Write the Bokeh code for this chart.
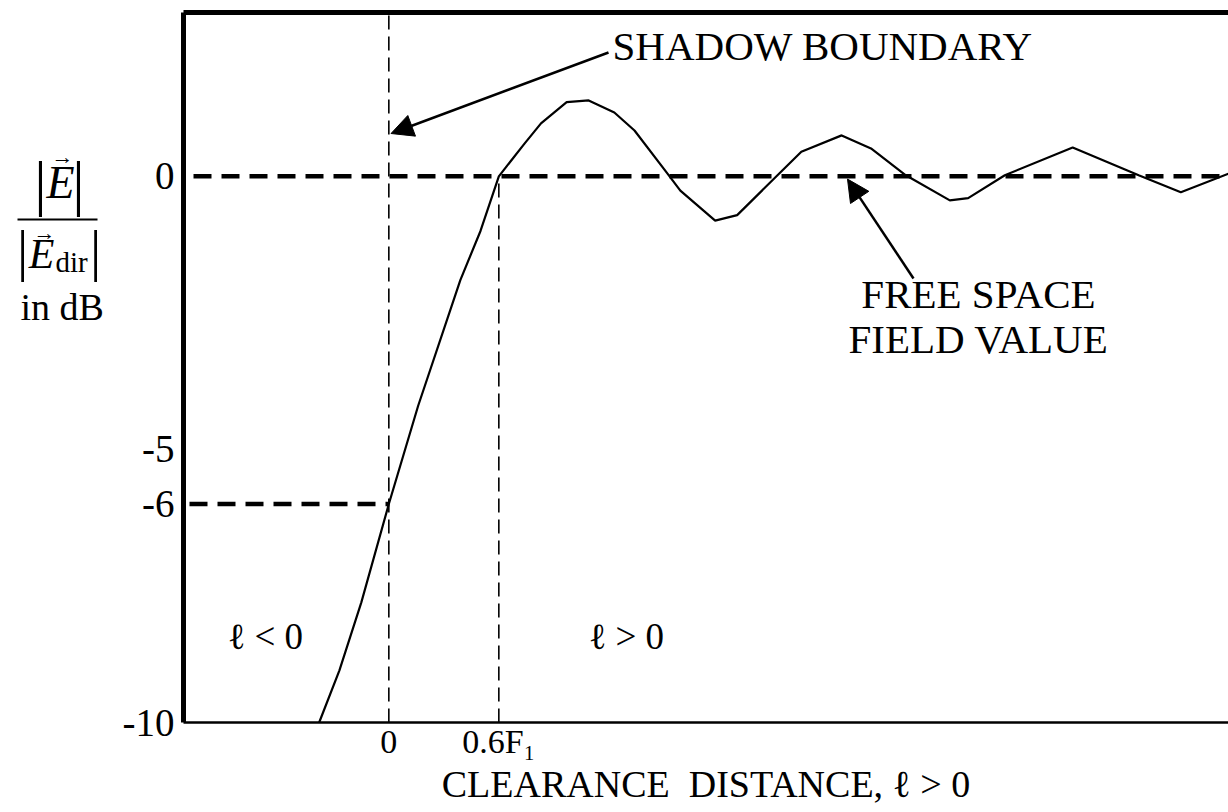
from bokeh.plotting import figure
from bokeh.layouts import row
from bokeh.models import Range1d, LinearAxis, FixedTicker, Label, Arrow, NormalHead
from bokeh.embed import file_html
from bokeh.resources import INLINE

# Relative field strength |E|/|E_dir| (dB) versus path clearance (units of F1)
clearance = [-0.38, -0.27, -0.15, 0.0, 0.16, 0.39, 0.50, 0.60, 0.74, 0.83,
             0.97, 1.09, 1.23, 1.34, 1.52, 1.59, 1.78, 1.90, 2.12, 2.25,
             2.47, 2.63, 2.82, 3.06, 3.16, 3.36, 3.73, 4.09, 4.32, 4.58]
field_db = [-10.0, -9.05, -7.8, -6.0, -4.2, -1.9, -1.0, 0.0, 0.6, 0.97,
            1.36, 1.39, 1.17, 0.84, 0.05, -0.26, -0.81, -0.71, 0.02, 0.45,
            0.75, 0.51, 0.02, -0.44, -0.40, 0.02, 0.53, 0.02, -0.29, 0.05]

free_space_db = 0.0          # free-space field level
shadow_db = -6.0             # field at grazing incidence
shadow_clearance = 0.0       # shadow boundary
fresnel_clearance = 0.6      # 0.6 F1 clearance

y_ticks = [0, -5, -6, -10]
y_tick_labels = {0: "0", -5: "-5", -6: "-6", -10: "-10"}
x_ticks = [0, 0.6]
x_tick_labels = {0: "0", 0.6: "0.6F\u2081"}

X0, X1 = -1.12, 4.58
Y0, Y1 = -10.0, 3.0

W, H = 1228, 812
LW = 110                              # width of the quantity panel
FL, FR, FT, FB = 183, 1228, 12, 722   # plot frame edges on the page

SERIF = "Liberation Serif"


def cx(px):
    return X0 + (px - FL) * (X1 - X0) / (FR - FL)


def cy(py):
    return Y1 - (py - FT) * (Y1 - Y0) / (FB - FT)


# ---- main plot -------------------------------------------------------
p = figure(width=W - LW, height=H, output_backend="svg", toolbar_location=None,
           x_range=Range1d(X0, X1), y_range=Range1d(Y0, Y1),
           min_border_left=FL - LW, min_border_right=W - FR,
           min_border_top=FT, min_border_bottom=H - FB)
p.outline_line_color = None
p.grid.visible = False
p.background_fill_color = "white"
p.border_fill_color = "white"

ya = p.yaxis[0]
ya.ticker = FixedTicker(ticks=y_ticks)
ya.major_label_overrides = y_tick_labels
ya.axis_line_width = 5
ya.axis_line_color = "black"
ya.major_tick_out = 0
ya.major_tick_in = 0
ya.minor_tick_out = 0
ya.minor_tick_in = 0
ya.major_label_standoff = 9
ya.major_label_text_font = SERIF
ya.major_label_text_font_size = "39px"
ya.major_label_text_color = "black"

xa = p.xaxis[0]
xa.ticker = FixedTicker(ticks=x_ticks)
xa.major_label_overrides = x_tick_labels
xa.axis_line_width = 2.5
xa.axis_line_color = "black"
xa.major_tick_out = 0
xa.major_tick_in = 0
xa.minor_tick_out = 0
xa.minor_tick_in = 0
xa.major_label_standoff = 0
xa.major_label_text_font = SERIF
xa.major_label_text_font_size = "34px"
xa.major_label_text_color = "black"
xa.axis_label = "CLEARANCE\u00a0 DISTANCE, \u2113 > 0"
xa.axis_label_text_font = SERIF
xa.axis_label_text_font_style = "normal"
xa.axis_label_text_font_size = "38px"
xa.axis_label_text_color = "black"
xa.axis_label_standoff = 0

# heavy top border
top = LinearAxis(ticker=FixedTicker(ticks=[]), axis_line_width=5,
                 major_tick_out=0, major_tick_in=0, minor_tick_out=0,
                 minor_tick_in=0, major_label_text_font_size="0px",
                 major_label_standoff=0)
p.add_layout(top, "above")

# reference levels and clearances
p.line([cx(193), X1], [free_space_db, free_space_db], line_color="black",
       line_width=4.5, line_dash="18 10")
p.line([cx(189), shadow_clearance], [shadow_db, shadow_db], line_color="black",
       line_width=4.5, line_dash="18 10")
p.line([shadow_clearance, shadow_clearance], [Y0, Y1], line_color="black",
       line_width=1.6, line_dash="14 7")
p.line([fresnel_clearance, fresnel_clearance], [Y0, free_space_db],
       line_color="black", line_width=1.6, line_dash="14 7")

# field curve
p.line(clearance, field_db, line_color="black", line_width=2.2)


def text(fig, x, y, s, size="40px", align="left", baseline="middle", style="normal"):
    fig.add_layout(Label(x=x, y=y, text=s, text_font=SERIF, text_font_size=size,
                         text_align=align, text_baseline=baseline,
                         text_font_style=style, text_color="black"))


text(p, cx(612), cy(45), "SHADOW BOUNDARY", size="41px")
text(p, cx(978), cy(293), "FREE SPACE", size="41px", align="center")
text(p, cx(978), cy(338), "FIELD VALUE", size="41px", align="center")
text(p, cx(227), cy(636), "\u2113 < 0", size="37px")
text(p, cx(588), cy(636), "\u2113 > 0", size="37px")

p.add_layout(Arrow(end=NormalHead(size=22, fill_color="black", line_color="black"),
                   x_start=cx(608), y_start=cy(52), x_end=shadow_clearance + 0.012, y_end=cy(133),
                   line_width=2.5, line_color="black"))
p.add_layout(Arrow(end=NormalHead(size=22, fill_color="black", line_color="black"),
                   x_start=cx(913), y_start=cy(278), x_end=cx(847), y_end=free_space_db - 0.05,
                   line_width=2.5, line_color="black"))

# ---- quantity panel: |E| / |E_dir| in dB ------------------------------
# frame shares the main plot's vertical extent; ranges are page pixels
q = figure(width=LW, height=H, output_backend="svg", toolbar_location=None,
           x_range=Range1d(0, LW), y_range=Range1d(FB, FT),
           x_axis_type=None, y_axis_type=None,
           min_border_left=0, min_border_right=0,
           min_border_top=FT, min_border_bottom=H - FB)
q.outline_line_color = None
q.grid.visible = False
q.background_fill_color = "white"
q.border_fill_color = "white"

# numerator |E|
text(q, 40, 182, "|", size="62px", align="center")
text(q, 78, 182, "|", size="62px", align="center")
text(q, 60, 182, "E", size="46px", align="center", style="italic")
text(q, 62, 156, "\u2192", size="22px", align="center")
# fraction bar
q.add_layout(Arrow(end=None, x_start=17, y_start=219, x_end=97, y_end=219,
                   line_width=2, line_color="black"))
# denominator |E_dir|
text(q, 22, 250, "|", size="56px", align="center")
text(q, 95, 250, "|", size="56px", align="center")
text(q, 41, 253, "E", size="42px", align="center", style="italic")
text(q, 44, 232, "\u2192", size="22px", align="center")
text(q, 71, 261, "dir", size="29px", align="center")
text(q, 20, 306, "in dB", size="38px")

open("out.html", "w").write(file_html(row(q, p), INLINE))
